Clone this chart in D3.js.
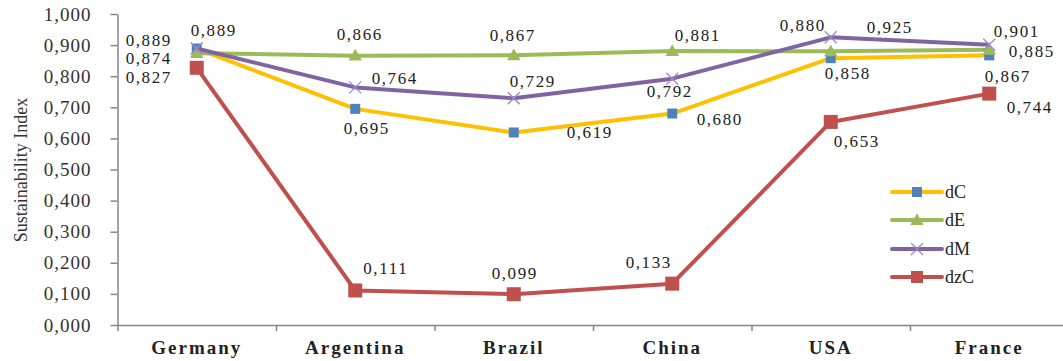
<!DOCTYPE html>
<html>
<head>
<meta charset="utf-8">
<script src="https://cdn.jsdelivr.net/npm/d3@7"></script>
<style>
  html, body { margin: 0; padding: 0; background: #fff; }
  svg { display: block; }
  text { font-family: "Liberation Serif", "Times New Roman", serif; }
</style>
</head>
<body>
<svg id="chart" width="1063" height="361"></svg>
<script>
// Countries on the category axis
const categories = ["Germany", "Argentina", "Brazil", "China", "USA", "France"];

// Sustainability index per country for each dimension
const dC  = [0.889, 0.695, 0.619, 0.680, 0.858, 0.867];
const dE  = [0.874, 0.866, 0.867, 0.881, 0.880, 0.885];
const dM  = [0.889, 0.764, 0.729, 0.792, 0.925, 0.901];
const dzC = [0.827, 0.111, 0.099, 0.133, 0.653, 0.744];

const seriesNames = ["dC", "dE", "dM", "dzC"];
const yTicks = [0, 0.1, 0.2, 0.3, 0.4, 0.5, 0.6, 0.7, 0.8, 0.9, 1.0];

// Styling per series
const styles = {
  dC:  { line: "#FFC000", marker: "square", fill: "#4F81BD", size: 10 },
  dE:  { line: "#9BBB59", marker: "triangle", fill: "#9BBB59", size: 12 },
  dM:  { line: "#8064A2", marker: "cross", fill: "#9D87C2", size: 12 },
  dzC: { line: "#C0504D", marker: "square", fill: "#C0504D", size: 14 }
};

// Data label offsets (px) from each marker, so labels avoid overlapping
const labelOffsets = {
  dC:  [[-48, -8], [11.5, 20], [76, 0.5], [47.5, 5.5], [17, 15], [18.5, 21.6]],
  dE:  [[-48, 5.5], [4.5, -20.7], [-1, -20], [25.5, -16], [-28, -26], [42.5, 2]],
  dM:  [[17, -18.5], [39.5, -8.4], [19, -17], [-2.5, 13], [59, -10], [27.5, -13]],
  dzC: [[-48, 9.5], [30.5, -21.5], [1, -21], [-23.5, -21.6], [26, 20], [40.5, 13.4]]
};

const seriesData = { dC, dE, dM, dzC };

const svg = d3.select("#chart");
const plotLeft = 117.5, plotRight = 1068.5, plotTop = 14, plotBottom = 325;

const x = d3.scaleBand().domain(categories).range([plotLeft, plotRight]).paddingInner(0).paddingOuter(0);
const xEdge = d3.scaleLinear().domain([0, categories.length]).range([plotLeft, plotRight]);
const y = d3.scaleLinear().domain([0, 1]).range([plotBottom, plotTop]);

const fmt = v => d3.format(".3f")(v).replace(".", ",");
const axisColor = "#868686";

// Y axis
const yAxis = svg.append("g")
  .attr("transform", `translate(${plotLeft},0)`)
  .call(d3.axisLeft(y).tickValues(yTicks).tickFormat(fmt).tickSize(7).tickPadding(19).tickSizeOuter(0));
yAxis.select(".domain").attr("stroke", axisColor).attr("stroke-width", 1.5);
yAxis.selectAll(".tick line").attr("stroke", axisColor).attr("stroke-width", 1.5);
yAxis.selectAll(".tick text")
  .attr("fill", "#333")
  .style("font-size", "19px")
  .style("letter-spacing", "1px");

// X axis: boundary tick marks
const xTicksG = svg.append("g")
  .attr("transform", `translate(0,${plotBottom})`)
  .call(d3.axisBottom(xEdge).tickValues(d3.range(0, categories.length)).tickFormat("").tickSize(6).tickSizeOuter(0));
xTicksG.select(".domain").attr("stroke", axisColor).attr("stroke-width", 1.5)
  .attr("d", `M${plotLeft},0.5H1063`);
xTicksG.selectAll(".tick line").attr("stroke", axisColor).attr("stroke-width", 1.5);

// X axis: category labels
const xLabels = svg.append("g")
  .attr("transform", `translate(0,${plotBottom})`)
  .call(d3.axisBottom(x).tickSize(0).tickPadding(16));
xLabels.select(".domain").remove();
xLabels.selectAll(".tick text")
  .attr("fill", "#222")
  .style("font-size", "19px")
  .style("font-weight", "bold")
  .style("letter-spacing", "2px");

// Y axis title
svg.append("text")
  .attr("transform", `translate(27,170) rotate(-90)`)
  .attr("text-anchor", "middle")
  .attr("fill", "#333")
  .style("font-size", "18px")
  .text("Sustainability Index");

// Marker drawing helper
function drawMarker(g, type, cx, cy, size, fill) {
  if (type === "square") {
    g.append("rect")
      .attr("x", cx - size / 2).attr("y", cy - size / 2)
      .attr("width", size).attr("height", size)
      .attr("fill", fill);
  } else if (type === "triangle") {
    const sym = d3.symbol().type(d3.symbolTriangle).size(size * size * 0.55);
    g.append("path")
      .attr("transform", `translate(${cx},${cy + 1})`)
      .attr("d", sym())
      .attr("fill", fill);
  } else if (type === "cross") {
    const h = size / 2;
    g.append("path")
      .attr("d", `M${cx - h},${cy - h}L${cx + h},${cy + h}M${cx - h},${cy + h}L${cx + h},${cy - h}`)
      .attr("stroke", fill).attr("stroke-width", 1.3).attr("fill", "none");
  }
}

const line = d3.line()
  .x((d, i) => x(categories[i]) + x.bandwidth() / 2)
  .y(d => y(d));

const plot = svg.append("g");
seriesNames.forEach(name => {
  const s = styles[name];
  const vals = seriesData[name];
  const g = plot.append("g");
  g.append("path")
    .datum(vals)
    .attr("d", line)
    .attr("fill", "none")
    .attr("stroke", s.line)
    .attr("stroke-width", 4)
    .attr("stroke-linejoin", "round");
  vals.forEach((v, i) => {
    drawMarker(g, s.marker, x(categories[i]) + x.bandwidth() / 2, y(v), s.size, s.fill);
  });
});

// Data labels
const labels = svg.append("g");
seriesNames.forEach(name => {
  seriesData[name].forEach((v, i) => {
    const [dx, dy] = labelOffsets[name][i];
    labels.append("text")
      .attr("x", x(categories[i]) + x.bandwidth() / 2 + dx)
      .attr("y", y(v) + dy)
      .attr("text-anchor", "middle")
      .attr("dominant-baseline", "central")
      .attr("fill", "#222")
      .style("font-size", "17px")
      .style("letter-spacing", "1.6px")
      .text(fmt(v));
  });
});

// Legend
const legend = svg.append("g");
const legendRows = [192, 220, 249, 277];
seriesNames.forEach((name, k) => {
  const s = styles[name];
  const ly = legendRows[k];
  legend.append("line")
    .attr("x1", 892).attr("x2", 942).attr("y1", ly).attr("y2", ly)
    .attr("stroke", s.line).attr("stroke-width", 4).attr("stroke-linecap", "round");
  drawMarker(legend, s.marker, 917, ly, name === "dzC" ? 12 : s.size, s.fill);
  legend.append("text")
    .attr("x", 945).attr("y", ly)
    .attr("dominant-baseline", "central")
    .attr("fill", "#222")
    .style("font-size", "18px")
    .text(name);
});
</script>
</body>
</html>
